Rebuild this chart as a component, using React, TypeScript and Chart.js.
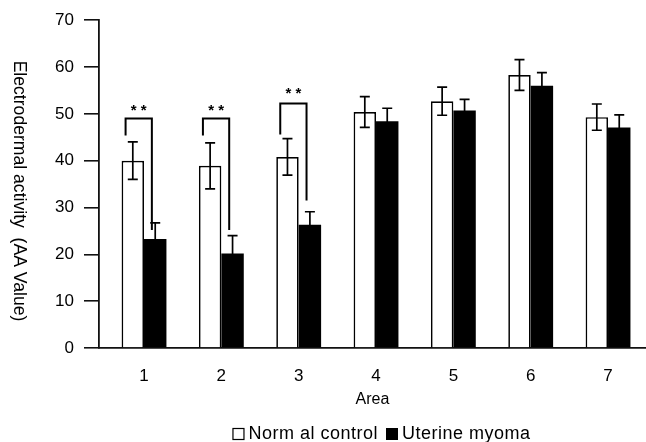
import { useEffect, useRef } from 'react';
import { Chart, registerables } from 'chart.js';

Chart.register(...registerables);

const areas = [1, 2, 3, 4, 5, 6, 7];
const controlMeans = [40.0, 38.9, 40.8, 50.4, 52.7, 58.3, 49.3];
const controlErr = [4.0, 4.9, 3.9, 3.3, 3.0, 3.3, 2.8];
const myomaMeans = [23.3, 20.2, 26.3, 48.4, 50.7, 56.0, 47.1];
const myomaErr = [3.4, 3.8, 2.8, 2.8, 2.4, 2.8, 2.7];
const yTicks = [0, 10, 20, 30, 40, 50, 60, 70];

// significance brackets (group index, bracket top, left arm bottom, right arm bottom, star level)
const sigGroups = [0, 1, 2];
const sigTop = [49.0, 49.0, 52.2];
const sigLeftBottom = [45.4, 45.4, 45.6];
const sigRightBottom = [25.2, 25.2, 31.5];
const sigStarLevel = [51.6, 51.6, 55.4];

const seriesNames = ['Norm al control', 'Uterine myoma'];
const yTitle = 'Electrodermal activity  (AA Value)';
const xTitle = 'Area';

const FONT = '"Liberation Sans", Arial, Helvetica, sans-serif';

export default function App() {
  const ref = useRef<HTMLCanvasElement>(null);

  useEffect(() => {
    const canvas = ref.current;
    if (!canvas) return;

    const overlay = {
      id: 'overlay',
      afterDatasetsDraw(chart: any) {
        const c = chart.ctx;
        const ys = chart.scales.y;
        const sets: [number[], number[]][] = [
          [controlMeans, controlErr],
          [myomaMeans, myomaErr],
        ];
        c.save();
        c.strokeStyle = '#000';
        c.lineWidth = 1.7;
        sets.forEach(([m, e], di) => {
          const meta = chart.getDatasetMeta(di);
          meta.data.forEach((bar: any, i: number) => {
            const x = bar.x;
            const yt = ys.getPixelForValue(m[i] + e[i]);
            const yb = ys.getPixelForValue(m[i] - e[i]);
            c.beginPath();
            c.moveTo(x, yt);
            c.lineTo(x, yb);
            c.moveTo(x - 5, yt);
            c.lineTo(x + 5, yt);
            c.moveTo(x - 5, yb);
            c.lineTo(x + 5, yb);
            c.stroke();
          });
        });
        // brackets
        const m0 = chart.getDatasetMeta(0);
        const m1 = chart.getDatasetMeta(1);
        c.lineWidth = 2;
        sigGroups.forEach((g, k) => {
          const wb: any = m0.data[g];
          const bb: any = m1.data[g];
          const w = wb.width;
          const xl = wb.x - w / 2 + 4;
          const xr = bb.x - 0.15 * w;
          const yTop = ys.getPixelForValue(sigTop[k]);
          c.beginPath();
          c.moveTo(xl, ys.getPixelForValue(sigLeftBottom[k]));
          c.lineTo(xl, yTop);
          c.lineTo(xr, yTop);
          c.lineTo(xr, ys.getPixelForValue(sigRightBottom[k]));
          c.stroke();
          c.fillStyle = '#000';
          c.font = `bold 15px ${FONT}`;
          c.textAlign = 'center';
          c.textBaseline = 'alphabetic';
          c.fillText('* *', (xl + xr) / 2, ys.getPixelForValue(sigStarLevel[k]) + 9);
        });
        c.restore();
      },
      afterDraw(chart: any) {
        const c = chart.ctx;
        const area = chart.chartArea;
        c.save();
        // y title, rotated clockwise
        c.fillStyle = '#000';
        c.font = `17.6px ${FONT}`;
        c.translate(19, 191);
        c.rotate(Math.PI / 2);
        c.textAlign = 'center';
        c.textBaseline = 'middle';
        c.fillText(yTitle, 0, 0);
        c.restore();

        // legend
        c.save();
        c.font = `18px ${FONT}`;
        try {
          (c as any).letterSpacing = '0.5px';
        } catch (e) {
          /* ignore */
        }
        c.textBaseline = 'middle';
        c.textAlign = 'left';
        const w1 = c.measureText(seriesNames[0]).width;
        const w2 = c.measureText(seriesNames[1]).width;
        const box = 12;
        const total = box + 4 + w1 + 8 + box + 4 + w2;
        const cx = (area.left + area.right) / 2 + 9;
        let x = cx - total / 2;
        const yc = 434;
        c.lineWidth = 1.2;
        c.strokeStyle = '#000';
        c.fillStyle = '#fff';
        c.fillRect(x, yc - box / 2, box, box);
        c.strokeRect(x + 0.5, yc - box / 2 + 0.5, box - 1, box - 1);
        x += box + 4;
        c.fillStyle = '#000';
        c.fillText(seriesNames[0], x, yc);
        x += w1 + 8;
        c.fillRect(x, yc - box / 2, box, box);
        x += box + 4;
        c.fillText(seriesNames[1], x, yc);
        c.restore();
      },
    };

    const chart = new Chart(canvas, {
      type: 'bar',
      data: {
        datasets: [
          {
            label: seriesNames[0],
            data: areas.map((a, i) => ({ x: a, y: controlMeans[i] })),
            backgroundColor: '#fff',
            borderColor: '#000',
            borderWidth: 1.7,
          },
          {
            label: seriesNames[1],
            data: areas.map((a, i) => ({ x: a, y: myomaMeans[i] })),
            backgroundColor: '#000',
            borderColor: '#000',
            borderWidth: 0,
          },
        ],
      },
      options: {
        responsive: false,
        animation: false,
        devicePixelRatio: 1,
        layout: { padding: { top: 19, right: 0, bottom: 0, left: 0 } },
        datasets: {
          bar: { barPercentage: 1, categoryPercentage: 0.58 },
        },
        plugins: {
          legend: { display: false },
          tooltip: { enabled: false },
          title: { display: false },
        },
        scales: {
          x: {
            type: 'linear',
            min: 0.418,
            max: 7.491,
            offset: false,
            grid: { display: false },
            border: { display: true, color: '#111', width: 1.8 },
            afterBuildTicks: (s: any) => {
              s.ticks = areas.map((v) => ({ value: v }));
            },
            ticks: {
              color: '#000',
              font: { family: FONT, size: 17 },
              padding: 10,
              autoSkip: false,
              maxRotation: 0,
            },
            title: {
              display: true,
              text: xTitle,
              color: '#000',
              font: { family: FONT, size: 16 },
              padding: { top: 0, bottom: 33 },
            },
            afterFit: (s: any) => {
              s.height = 94;
            },
          },
          y: {
            min: 0,
            max: 70,
            afterBuildTicks: (s: any) => {
              s.ticks = yTicks.map((v) => ({ value: v }));
            },
            ticks: {
              color: '#000',
              font: { family: FONT, size: 17 },
              padding: 10,
            },
            grid: {
              display: true,
              drawOnChartArea: false,
              drawTicks: true,
              tickLength: 15,
              color: '#111',
              lineWidth: 1.6,
            },
            border: { display: true, color: '#111', width: 1.8 },
            afterFit: (s: any) => {
              s.width = 99;
            },
          },
        },
      } as any,
      plugins: [overlay],
    });

    return () => chart.destroy();
  }, []);

  return (
    <div style={{ position: 'absolute', left: 0, top: 0, width: 646, height: 442, background: '#fff' }}>
      <canvas ref={ref} width={646} height={442} />
    </div>
  );
}
